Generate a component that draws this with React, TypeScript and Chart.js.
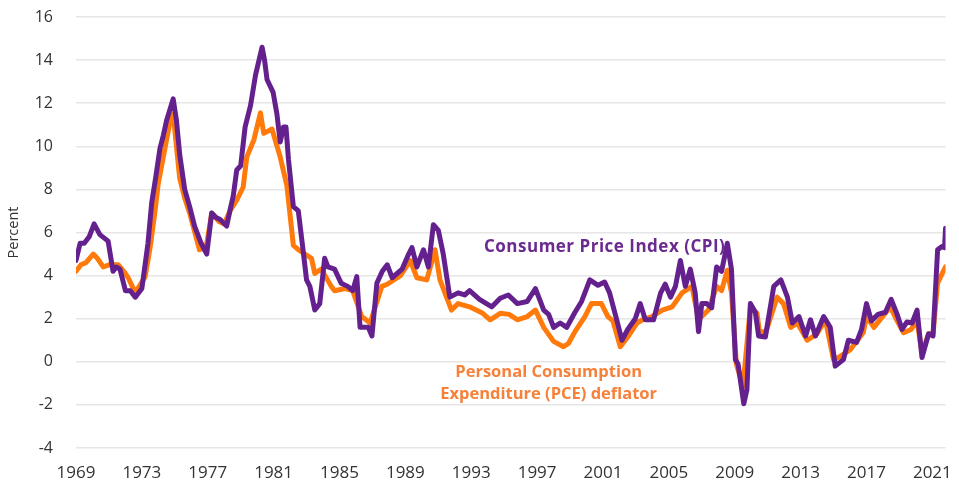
import React, { useEffect, useRef } from "react";
import { Chart, registerables } from "chart.js";

Chart.register(...registerables);

// Year-over-year inflation, percent
const cpiYears = [
  1969.0, 1969.25, 1969.5, 1969.8, 1970.1, 1970.45, 1970.95, 1971.25, 1971.45, 1971.67,
  1972.0, 1972.3, 1972.6, 1973.0, 1973.37, 1973.6, 1973.85, 1974.1, 1974.3, 1974.5,
  1974.9, 1975.1, 1975.3, 1975.6, 1975.9, 1976.2, 1976.6, 1976.94, 1977.24, 1977.5,
  1977.75, 1978.15, 1978.4, 1978.55, 1978.76, 1979.0, 1979.27, 1979.6, 1979.9, 1980.3,
  1980.45, 1980.6, 1980.97, 1981.2, 1981.4, 1981.6, 1981.75, 1981.9, 1982.2, 1982.5,
  1982.8, 1983.0, 1983.2, 1983.5, 1983.8, 1984.1, 1984.3, 1984.7, 1985.1, 1985.5,
  1985.8, 1986.05, 1986.25, 1986.75, 1986.97, 1987.27, 1987.6, 1987.9, 1988.2, 1988.8,
  1989.2, 1989.4, 1989.7, 1990.1, 1990.4, 1990.7, 1991.0, 1991.3, 1991.7, 1992.2,
  1992.6, 1992.9, 1993.5, 1994.25, 1994.76, 1995.25, 1995.8, 1996.4, 1996.9, 1997.4,
  1997.7, 1998.0, 1998.4, 1998.8, 1999.3, 1999.7, 2000.2, 2000.7, 2001.1, 2001.4,
  2001.85, 2002.15, 2002.5, 2002.96, 2003.26, 2003.57, 2004.07, 2004.5, 2004.78, 2005.1,
  2005.4, 2005.7, 2006.0, 2006.3, 2006.6, 2006.8, 2007.0, 2007.3, 2007.6, 2007.9,
  2008.2, 2008.55, 2008.8, 2009.04, 2009.2, 2009.55, 2009.74, 2009.95, 2010.25, 2010.45,
  2010.86, 2011.37, 2011.8, 2012.2, 2012.5, 2012.9, 2013.3, 2013.6, 2013.9, 2014.4,
  2014.8, 2015.1, 2015.6, 2015.9, 2016.4, 2016.7, 2017.0, 2017.3, 2017.7, 2018.15,
  2018.5, 2018.86, 2019.16, 2019.46, 2019.77, 2020.07, 2020.37, 2020.77, 2021.04, 2021.32,
  2021.58, 2021.74, 2021.8,
];
const cpiValues = [
  4.7, 5.5, 5.5, 5.8, 6.4, 5.9, 5.6, 4.2, 4.4, 4.3,
  3.3, 3.3, 3.0, 3.4, 5.5, 7.4, 8.6, 9.9, 10.5, 11.2,
  12.2, 11.2, 9.6, 8.0, 7.2, 6.3, 5.5, 5.0, 6.9, 6.7,
  6.6, 6.3, 7.2, 7.7, 8.9, 9.1, 10.9, 11.9, 13.3, 14.6,
  14.0, 13.1, 12.5, 11.5, 10.2, 10.9, 10.9, 9.4, 7.2, 7.0,
  5.1, 3.8, 3.5, 2.4, 2.7, 4.8, 4.4, 4.3, 3.65, 3.5,
  3.3, 3.95, 1.6, 1.6, 1.2, 3.65, 4.2, 4.5, 3.9, 4.3,
  5.0, 5.3, 4.4, 5.2, 4.4, 6.36, 6.1, 5.0, 3.0, 3.2,
  3.1, 3.3, 2.9, 2.55, 2.95, 3.1, 2.7, 2.8, 3.4, 2.4,
  2.2, 1.6, 1.8, 1.6, 2.3, 2.8, 3.8, 3.55, 3.7, 3.2,
  1.9, 1.0, 1.5, 2.0, 2.7, 1.95, 1.95, 3.2, 3.6, 3.0,
  3.5, 4.7, 3.5, 4.3, 3.2, 1.4, 2.7, 2.7, 2.5, 4.4,
  4.2, 5.5, 4.3, 0.1, -0.1, -1.95, -1.3, 2.7, 2.3, 1.2,
  1.15, 3.5, 3.8, 3.0, 1.8, 2.1, 1.2, 1.95, 1.2, 2.1,
  1.6, -0.2, 0.1, 1.0, 0.9, 1.5, 2.7, 1.9, 2.2, 2.3,
  2.9, 2.2, 1.5, 1.85, 1.8, 2.4, 0.2, 1.3, 1.2, 5.2,
  5.35, 5.3, 6.2,
];

const pceYears = [
  1969.0, 1969.3, 1969.6, 1970.05, 1970.3, 1970.65, 1971.0, 1971.57, 1971.9, 1972.17,
  1972.6, 1973.2, 1973.5, 1973.8, 1974.0, 1974.3, 1974.7, 1974.9, 1975.3, 1975.6,
  1975.9, 1976.5, 1976.9, 1977.24, 1977.7, 1978.0, 1978.35, 1978.76, 1979.15, 1979.37,
  1979.8, 1980.2, 1980.4, 1980.9, 1981.4, 1981.8, 1982.2, 1982.5, 1983.3, 1983.5,
  1983.9, 1984.5, 1984.7, 1985.35, 1985.8, 1986.35, 1986.86, 1987.57, 1987.9, 1988.7,
  1989.3, 1989.7, 1990.3, 1990.8, 1991.1, 1991.8, 1992.2, 1992.9, 1993.7, 1994.15,
  1994.76, 1995.3, 1995.8, 1996.4, 1996.9, 1997.4, 1998.0, 1998.6, 1998.9, 1999.3,
  1999.9, 2000.3, 2000.9, 2001.3, 2001.6, 2002.05, 2002.5, 2003.06, 2003.4, 2003.97,
  2004.6, 2005.2, 2005.8, 2006.4, 2006.8, 2007.4, 2007.9, 2008.2, 2008.55, 2008.8,
  2009.1, 2009.5, 2009.95, 2010.35, 2010.5, 2010.9, 2011.57, 2011.96, 2012.4, 2012.8,
  2013.4, 2014.0, 2014.5, 2015.0, 2015.4, 2016.0, 2016.8, 2017.0, 2017.45, 2018.45,
  2018.86, 2019.25, 2019.7, 2020.07, 2020.37, 2020.77, 2021.04, 2021.32, 2021.6, 2021.8,
];
const pceValues = [
  4.2, 4.5, 4.6, 5.0, 4.8, 4.4, 4.5, 4.5, 4.2, 3.9,
  3.2, 3.95, 5.3, 7.0, 8.3, 9.5, 11.1, 11.5, 8.5, 7.6,
  6.9, 5.2, 5.3, 6.9, 6.5, 6.4, 7.0, 7.5, 8.1, 9.5,
  10.3, 11.55, 10.6, 10.8, 9.5, 8.2, 5.4, 5.2, 4.8, 4.1,
  4.3, 3.5, 3.3, 3.4, 3.3, 2.1, 1.8, 3.5, 3.6, 4.0,
  4.7, 3.9, 3.8, 5.2, 3.8, 2.4, 2.7, 2.55, 2.25, 1.95,
  2.25, 2.2, 1.95, 2.1, 2.4, 1.6, 0.95, 0.7, 0.85, 1.4,
  2.1, 2.7, 2.7, 2.1, 1.9, 0.7, 1.15, 1.8, 1.95, 2.1,
  2.4, 2.55, 3.2, 3.5, 1.95, 2.4, 3.5, 3.3, 4.25, 3.2,
  -0.1, -1.15, 2.55, 2.25, 1.4, 1.4, 3.0, 2.7, 1.6, 1.8,
  1.0, 1.3, 1.95, 0.1, 0.25, 0.55, 1.35, 2.1, 1.6, 2.55,
  1.9, 1.35, 1.5, 1.9, 0.4, 1.3, 1.3, 3.65, 4.1, 4.4,
];

const xTickYears = [1969, 1973, 1977, 1981, 1985, 1989, 1993, 1997, 2001, 2005, 2009, 2013, 2017, 2021];
const yTickValues = [-4, -2, 0, 2, 4, 6, 8, 10, 12, 14, 16];

const cpiName = "Consumer Price Index (CPI)";
const pceNameLines = ["Personal Consumption", "Expenditure (PCE) deflator"];

const PURPLE = "#64218e";
const ORANGE = "#ff7a0a";
const TEXT = "#333333";
const FONT = "'Open Sans', 'Noto Sans', sans-serif";

const labelPlugin = {
  id: "seriesLabels",
  afterDatasetsDraw(chart: any) {
    const { ctx, scales } = chart;
    const xs = scales.x;
    const ys = scales.y;
    ctx.save();
    ctx.textAlign = "center";
    ctx.textBaseline = "middle";
    ctx.font = `bold 17px ${FONT}`;
    (ctx as any).letterSpacing = "0.5px";
    ctx.fillStyle = "#6a2a90";
    ctx.fillText(cpiName, xs.getPixelForValue(2001.1), ys.getPixelForValue(5.33));
    (ctx as any).letterSpacing = "0px";
    ctx.font = `bold 16.5px ${FONT}`;
    ctx.fillStyle = "#f5813a";
    ctx.fillText(pceNameLines[0], xs.getPixelForValue(1997.7), ys.getPixelForValue(-0.48));
    ctx.fillText(pceNameLines[1], xs.getPixelForValue(1997.7), ys.getPixelForValue(-1.5));
    ctx.restore();
  },
};

export default function App() {
  const ref = useRef<HTMLCanvasElement>(null);

  useEffect(() => {
    const canvas = ref.current;
    if (!canvas) return;
    const chart = new Chart(canvas, {
      type: "line",
      data: {
        datasets: [
          {
            label: "CPI",
            data: cpiYears.map((x, i) => ({ x, y: cpiValues[i] })),
            borderColor: PURPLE,
            borderWidth: 5,
            pointRadius: 0,
            tension: 0,
            borderJoinStyle: "round",
            borderCapStyle: "round",
          },
          {
            label: "PCE",
            data: pceYears.map((x, i) => ({ x, y: pceValues[i] })),
            borderColor: ORANGE,
            borderWidth: 5,
            pointRadius: 0,
            tension: 0,
            borderJoinStyle: "round",
            borderCapStyle: "round",
          },
        ],
      },
      options: {
        animation: false,
        responsive: false,
        maintainAspectRatio: false,
        layout: { autoPadding: false, padding: { left: 0, right: 13, top: 17, bottom: 0 } },
        plugins: {
          legend: { display: false },
          tooltip: { enabled: false },
        },
        scales: {
          x: {
            type: "linear",
            min: 1969,
            max: 2021.8,
            grid: { display: false },
            border: { display: false },
            afterBuildTicks: (s: any) => {
              s.ticks = xTickYears.map((v) => ({ value: v }));
            },
            afterFit: (s: any) => {
              s.height = 46;
            },
            ticks: {
              autoSkip: false,
              maxRotation: 0,
              padding: 7,
              color: TEXT,
              font: { family: FONT, size: 17 },
              callback: (v: any) => String(v),
            },
          },
          y: {
            min: -4,
            max: 16,
            afterBuildTicks: (s: any) => {
              s.ticks = yTickValues.map((v) => ({ value: v }));
            },
            afterFit: (s: any) => {
              s.width = 76;
            },
            grid: {
              color: "#e6e6e6",
              lineWidth: 1.5,
              drawTicks: true,
              tickLength: 21,
              tickColor: "rgba(0,0,0,0)",
            },
            border: { display: false },
            ticks: {
              padding: 2,
              color: TEXT,
              font: { family: FONT, size: 16 },
            },
            title: {
              display: true,
              text: "Percent",
              color: TEXT,
              font: { family: FONT, size: 14.5 },
              padding: { top: 5, bottom: 0 },
            },
          },
        },
      },
      plugins: [labelPlugin],
    });
    return () => chart.destroy();
  }, []);

  return (
    <div style={{ position: "absolute", left: 0, top: 0, width: 959, height: 494, background: "#fff" }}>
      <canvas ref={ref} width={959} height={494} style={{ display: "block" }} />
    </div>
  );
}
